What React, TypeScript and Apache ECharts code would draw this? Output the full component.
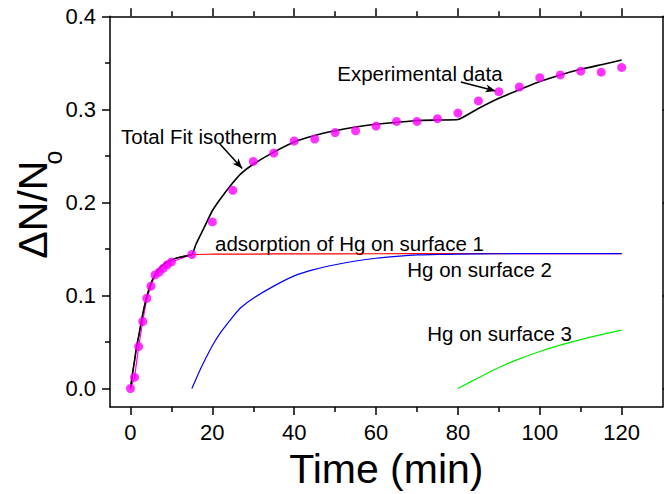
import React, { useEffect, useRef } from 'react';
import * as echarts from 'echarts';

const FONT = '"Liberation Sans", Arial, sans-serif';

// Experimental data (magenta dots)
const expTime = [0, 1, 2, 3, 4, 5, 6, 7, 8, 9, 10, 15, 20, 25, 30, 35, 40, 45, 50, 55, 60, 65, 70, 75, 80, 85, 90, 95, 100, 105, 110, 115, 120];
const expValue = [0, 0.012, 0.045, 0.072, 0.097, 0.110, 0.122, 0.125, 0.129, 0.133, 0.136, 0.144, 0.179, 0.213, 0.244, 0.253, 0.266, 0.268, 0.275, 0.277, 0.282, 0.287, 0.287, 0.290, 0.296, 0.309, 0.319, 0.324, 0.334, 0.337, 0.341, 0.340, 0.345];

// Total fit isotherm (black)
const fitTime = [0, 0.5, 1, 1.5, 2, 2.5, 3, 3.5, 4, 5, 6, 7, 8, 9, 10, 12, 15, 16, 17, 18, 20, 22, 25, 27, 30, 35, 40, 45, 50, 55, 60, 65, 70, 75, 80, 85, 90, 95, 100, 105, 110, 115, 120];
const fitValue = [0, 0.016, 0.030, 0.045, 0.056, 0.068, 0.080, 0.090, 0.099, 0.113, 0.122, 0.129, 0.133, 0.136, 0.138, 0.141, 0.144, 0.155, 0.164, 0.173, 0.191, 0.204, 0.221, 0.231, 0.241, 0.254, 0.265, 0.272, 0.277, 0.281, 0.284, 0.286, 0.288, 0.2885, 0.289, 0.301, 0.312, 0.321, 0.330, 0.337, 0.343, 0.348, 0.353];

// Hg on surface 1 (red)
const s1Time = [0, 0.5, 1, 1.5, 2, 2.5, 3, 3.5, 4, 5, 6, 7, 8, 9, 10, 12, 15, 20, 30, 40, 60, 80, 100, 120];
const s1Value = [0, 0.016, 0.030, 0.045, 0.056, 0.068, 0.080, 0.090, 0.099, 0.113, 0.122, 0.129, 0.133, 0.136, 0.138, 0.141, 0.1440, 0.1443, 0.1445, 0.1447, 0.1448, 0.1449, 0.145, 0.145];

// Hg on surface 2 (blue)
const s2Time = [15, 16, 17, 18, 20, 22, 25, 27, 30, 35, 40, 45, 50, 55, 60, 65, 70, 75, 80, 90, 100, 110, 120];
const s2Value = [0, 0.010, 0.020, 0.029, 0.046, 0.060, 0.077, 0.087, 0.097, 0.110, 0.121, 0.128, 0.133, 0.137, 0.140, 0.142, 0.1435, 0.144, 0.1445, 0.1448, 0.145, 0.145, 0.145];

// Hg on surface 3 (green)
const s3Time = [80, 85, 90, 95, 100, 105, 110, 115, 120];
const s3Value = [0, 0.0115, 0.0225, 0.0318, 0.0398, 0.0466, 0.0525, 0.0578, 0.0628];

// Tick values
const xMajor = [0, 20, 40, 60, 80, 100, 120];
const xMinor = [10, 30, 50, 70, 90, 110];
const yMajor = [0, 0.1, 0.2, 0.3, 0.4];
const yMinor = [0.05, 0.15, 0.25, 0.35];

// Annotation arrows (data coordinates: [time, value])
const arrowFitFrom = [21.8, 0.263];
const arrowFitTo = [27.3, 0.2365];
const arrowExpFrom = [80.7, 0.3294];
const arrowExpTo = [89.2, 0.3198];

const zip = (a: number[], b: number[]) => a.map((t, i) => [t, b[i]]);

export default function App() {
  const ref = useRef<HTMLDivElement>(null);
  useEffect(() => {
    const chart = echarts.init(ref.current!, null, { renderer: 'svg' });
    const axisColor = '#000';
    const lineStyle = { color: axisColor, width: 1.5 };
    const xBase = { type: 'value', min: -5, max: 130, gridIndex: 0, splitLine: { show: false } };
    const yBase = { type: 'value', min: -0.02, max: 0.4, gridIndex: 0, splitLine: { show: false } };
    const option: any = {
      animation: false,
      backgroundColor: '#fff',
      grid: { left: 110, right: 1.4, top: 16.3, bottom: 83.3, containLabel: false },
      xAxis: [
        {
          ...xBase, position: 'bottom',
          axisLine: { show: true, onZero: false, lineStyle },
          axisTick: { show: true, inside: false, length: 8, customValues: xMajor, lineStyle },
          axisLabel: { show: true, customValues: xMajor, fontSize: 22, fontFamily: FONT, color: '#000', margin: 14 },
          name: 'Time (min)', nameLocation: 'middle', nameGap: 37,
          nameTextStyle: { fontSize: 41, fontFamily: FONT, color: '#000' },
        },
        {
          ...xBase, position: 'bottom',
          axisLine: { show: false, onZero: false },
          axisTick: { show: true, inside: false, length: 5, customValues: xMinor, lineStyle },
          axisLabel: { show: false, customValues: xMinor },
        },
        {
          ...xBase, position: 'top',
          axisLine: { show: true, onZero: false, lineStyle },
          axisTick: { show: true, inside: false, length: 8, customValues: xMajor, lineStyle },
          axisLabel: { show: false, customValues: xMajor },
        },
        {
          ...xBase, position: 'top',
          axisLine: { show: false, onZero: false },
          axisTick: { show: true, inside: false, length: 5, customValues: xMinor, lineStyle },
          axisLabel: { show: false, customValues: xMinor },
        },
      ],
      yAxis: [
        {
          ...yBase, position: 'left',
          axisLine: { show: true, onZero: false, lineStyle },
          axisTick: { show: true, inside: false, length: 8, customValues: yMajor, lineStyle },
          axisLabel: {
            show: true, customValues: yMajor, fontSize: 22, fontFamily: FONT, color: '#000', margin: 14,
            formatter: (v: number) => v.toFixed(1),
          },
        },
        {
          ...yBase, position: 'left',
          axisLine: { show: false, onZero: false },
          axisTick: { show: true, inside: false, length: 5, customValues: yMinor, lineStyle },
          axisLabel: { show: false, customValues: yMinor },
        },
        {
          ...yBase, position: 'right',
          axisLine: { show: true, onZero: false, lineStyle },
          axisTick: { show: true, inside: false, length: 8, customValues: yMajor, lineStyle },
          axisLabel: { show: false, customValues: yMajor },
        },
      ],
      series: [
        {
          type: 'line', name: 'surface 1', data: zip(s1Time, s1Value), showSymbol: false, symbol: 'none',
          lineStyle: { color: '#ff0000', width: 1.2 }, smooth: 0.2, z: 2,
        },
        {
          type: 'line', name: 'surface 2', data: zip(s2Time, s2Value), showSymbol: false, symbol: 'none',
          lineStyle: { color: '#0000ff', width: 1.2 }, smooth: 0.3, z: 2,
        },
        {
          type: 'line', name: 'surface 3', data: zip(s3Time, s3Value), showSymbol: false, symbol: 'none',
          lineStyle: { color: '#00ee00', width: 1.2 }, smooth: 0.3, z: 2,
        },
        {
          type: 'line', name: 'data line', data: zip(expTime, expValue).slice(0, 12), showSymbol: false, symbol: 'none',
          lineStyle: { color: '#ff00ff', width: 1.2 }, z: 3,
        },
        {
          type: 'line', name: 'Total fit', data: zip(fitTime, fitValue), showSymbol: false, symbol: 'none',
          lineStyle: { color: '#000', width: 1.6 }, smooth: 0.15, z: 4,
          markLine: {
            silent: true, symbol: ['none', 'arrow'], symbolSize: [6, 10], animation: false,
            lineStyle: { color: '#000', width: 1.5, type: 'solid' },
            label: { show: false }, emphasis: { disabled: true },
            data: [
              [{ coord: arrowFitFrom }, { coord: arrowFitTo }],
              [{ coord: arrowExpFrom }, { coord: arrowExpTo }],
            ],
          },
        },
        {
          type: 'scatter', name: 'Experimental data', data: zip(expTime, expValue), symbol: 'circle', symbolSize: 9,
          itemStyle: { color: '#ff00ff' }, z: 5,
        },
      ],
      graphic: [
        { type: 'text', x: 32.5, y: 209.7, rotation: Math.PI / 2, style: { text: 'ΔN/N', font: `41px ${FONT}`, fill: '#000', align: 'center', verticalAlign: 'middle' } },
        { type: 'text', x: 53, y: 157.5, rotation: Math.PI / 2, style: { text: 'o', font: `25px ${FONT}`, fill: '#000', align: 'center', verticalAlign: 'middle' } },
        { type: 'text', x: 121, y: 136.2, style: { text: 'Total Fit isotherm', font: `20.5px ${FONT}`, fill: '#000', align: 'left', verticalAlign: 'middle' } },
        { type: 'text', x: 337.3, y: 73, style: { text: 'Experimental data', font: `20.5px ${FONT}`, fill: '#000', align: 'left', verticalAlign: 'middle' } },
        { type: 'text', x: 215, y: 243, style: { text: 'adsorption of Hg on surface 1', font: `20.5px ${FONT}`, fill: '#000', align: 'left', verticalAlign: 'middle' } },
        { type: 'text', x: 407.3, y: 269.7, style: { text: 'Hg on surface 2', font: `20.5px ${FONT}`, fill: '#000', align: 'left', verticalAlign: 'middle' } },
        { type: 'text', x: 427.3, y: 333.7, style: { text: 'Hg on surface 3', font: `20.5px ${FONT}`, fill: '#000', align: 'left', verticalAlign: 'middle' } },
      ],
    };
    chart.setOption(option);
    return () => chart.dispose();
  }, []);
  return <div ref={ref} style={{ position: 'fixed', left: 0, top: 0, width: 664, height: 494 }} />;
}
